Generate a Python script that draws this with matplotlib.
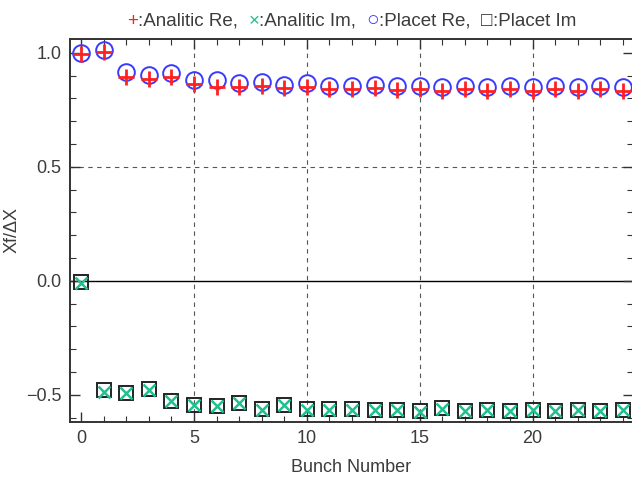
import matplotlib
matplotlib.use("Agg")
import matplotlib.pyplot as plt
import numpy as np
from matplotlib.offsetbox import TextArea, HPacker, AnchoredOffsetbox
from matplotlib.ticker import MultipleLocator

bunch = list(range(25))
analitic_re = [0.996, 1.003, 0.893, 0.885, 0.893, 0.863, 0.851, 0.851, 0.856, 0.844,
               0.851, 0.841, 0.841, 0.845, 0.837, 0.841, 0.834, 0.841, 0.834, 0.841,
               0.834, 0.841, 0.834, 0.841, 0.834]
placet_re = [0.999, 1.013, 0.915, 0.904, 0.910, 0.882, 0.881, 0.866, 0.871, 0.859,
             0.866, 0.856, 0.853, 0.860, 0.853, 0.856, 0.849, 0.856, 0.849, 0.856,
             0.849, 0.856, 0.849, 0.856, 0.849]
analitic_im = [-0.010, -0.487, -0.493, -0.477, -0.528, -0.546, -0.551, -0.535, -0.565, -0.546,
               -0.566, -0.565, -0.565, -0.568, -0.568, -0.574, -0.561, -0.573, -0.568, -0.573,
               -0.568, -0.573, -0.568, -0.573, -0.568]
placet_im = [-0.005, -0.479, -0.491, -0.475, -0.526, -0.545, -0.550, -0.534, -0.563, -0.545,
             -0.564, -0.564, -0.564, -0.567, -0.567, -0.573, -0.560, -0.572, -0.567, -0.572,
             -0.567, -0.572, -0.567, -0.572, -0.567]

RED = "#ff2020"
GREEN = "#20c090"
BLUE = "#3a3aff"
SQ = "#222222"
TXT = "#3c3c3c"
FAM = ["Liberation Sans", "DejaVu Sans"]
plt.rcParams["font.family"] = FAM

fig = plt.figure(figsize=(6.32, 4.83), dpi=100)
ax = fig.add_axes([70/632, (483-421.7)/483, (633-70)/632, (421.7-39.3)/483])

for x in [5, 10, 15, 20]:
    ax.axvline(x, color="#555555", lw=0.8, ls=(0, (4, 4)), zorder=0)
ax.axhline(0.5, color="#555555", lw=0.8, ls=(0, (4, 4)), zorder=0)
ax.axhline(0.0, color="black", lw=1.0, zorder=1)

ax.plot(bunch, placet_re, ls="none", marker="o", ms=12, mfc="none", mec=BLUE, mew=1.4, zorder=3)
ax.plot(bunch, placet_im, ls="none", marker="s", ms=10.5, mfc="none", mec=SQ, mew=1.4, zorder=3)
ax.plot(bunch, analitic_re, ls="none", marker="+", ms=11, mec=RED, mew=2.0, zorder=4)
ax.plot(bunch, analitic_im, ls="none", marker="x", ms=8, mec=GREEN, mew=1.8, zorder=4)

ax.set_xlim(-0.49, 24.45)
ax.set_ylim(-0.618, 1.059)
ax.xaxis.set_major_locator(MultipleLocator(5))
ax.xaxis.set_minor_locator(MultipleLocator(1))
ax.yaxis.set_minor_locator(MultipleLocator(0.1))
ax.set_yticks([-0.5, 0.0, 0.5, 1.0])
ax.set_yticklabels(["\u22120.5", "0.0", "0.5", "1.0"])
ax.tick_params(which="both", direction="in", top=True, right=True, colors="#333333",
               labelcolor=TXT, labelsize=13)
ax.tick_params(which="major", length=7, width=1.0, pad=6)
ax.tick_params(which="minor", length=4, width=0.8)
for s in ax.spines.values():
    s.set_color("#333333")
    s.set_linewidth(1.4)

ax.set_xlabel("Bunch Number", fontsize=13, color=TXT)
ax.xaxis.set_label_coords(0.5, (421.7 - 468) / (421.7 - 39.3), transform=ax.transAxes)
ax.xaxis.label.set_va("center")
ax.set_ylabel("Xf/\u0394X", fontsize=13, color=TXT)
ax.yaxis.set_label_coords((12 - 70) / 563, 0.5, transform=ax.transAxes)
ax.yaxis.label.set_va("center")

parts = [("+", RED, 13.5), (":Analitic Re,  ", TXT, 13.5), ("\u00d7", GREEN, 13.5),
         (":Analitic Im,  ", TXT, 13.5), ("\u25cb", BLUE, 15), (":Placet Re,  ", TXT, 13.5),
         ("\u25a1", SQ, 13.5), (":Placet Im", TXT, 13.5)]
boxes = [TextArea(t, textprops=dict(color=c, fontsize=f, family=FAM)) for t, c, f in parts]
pack = HPacker(children=boxes, align="baseline", pad=0, sep=0)
anch = AnchoredOffsetbox(loc="lower center", child=pack, frameon=False,
                         bbox_to_anchor=(0.5, 1.025), bbox_transform=ax.transAxes, borderpad=0, pad=0)
ax.add_artist(anch)

fig.savefig("out.png", dpi=100)
